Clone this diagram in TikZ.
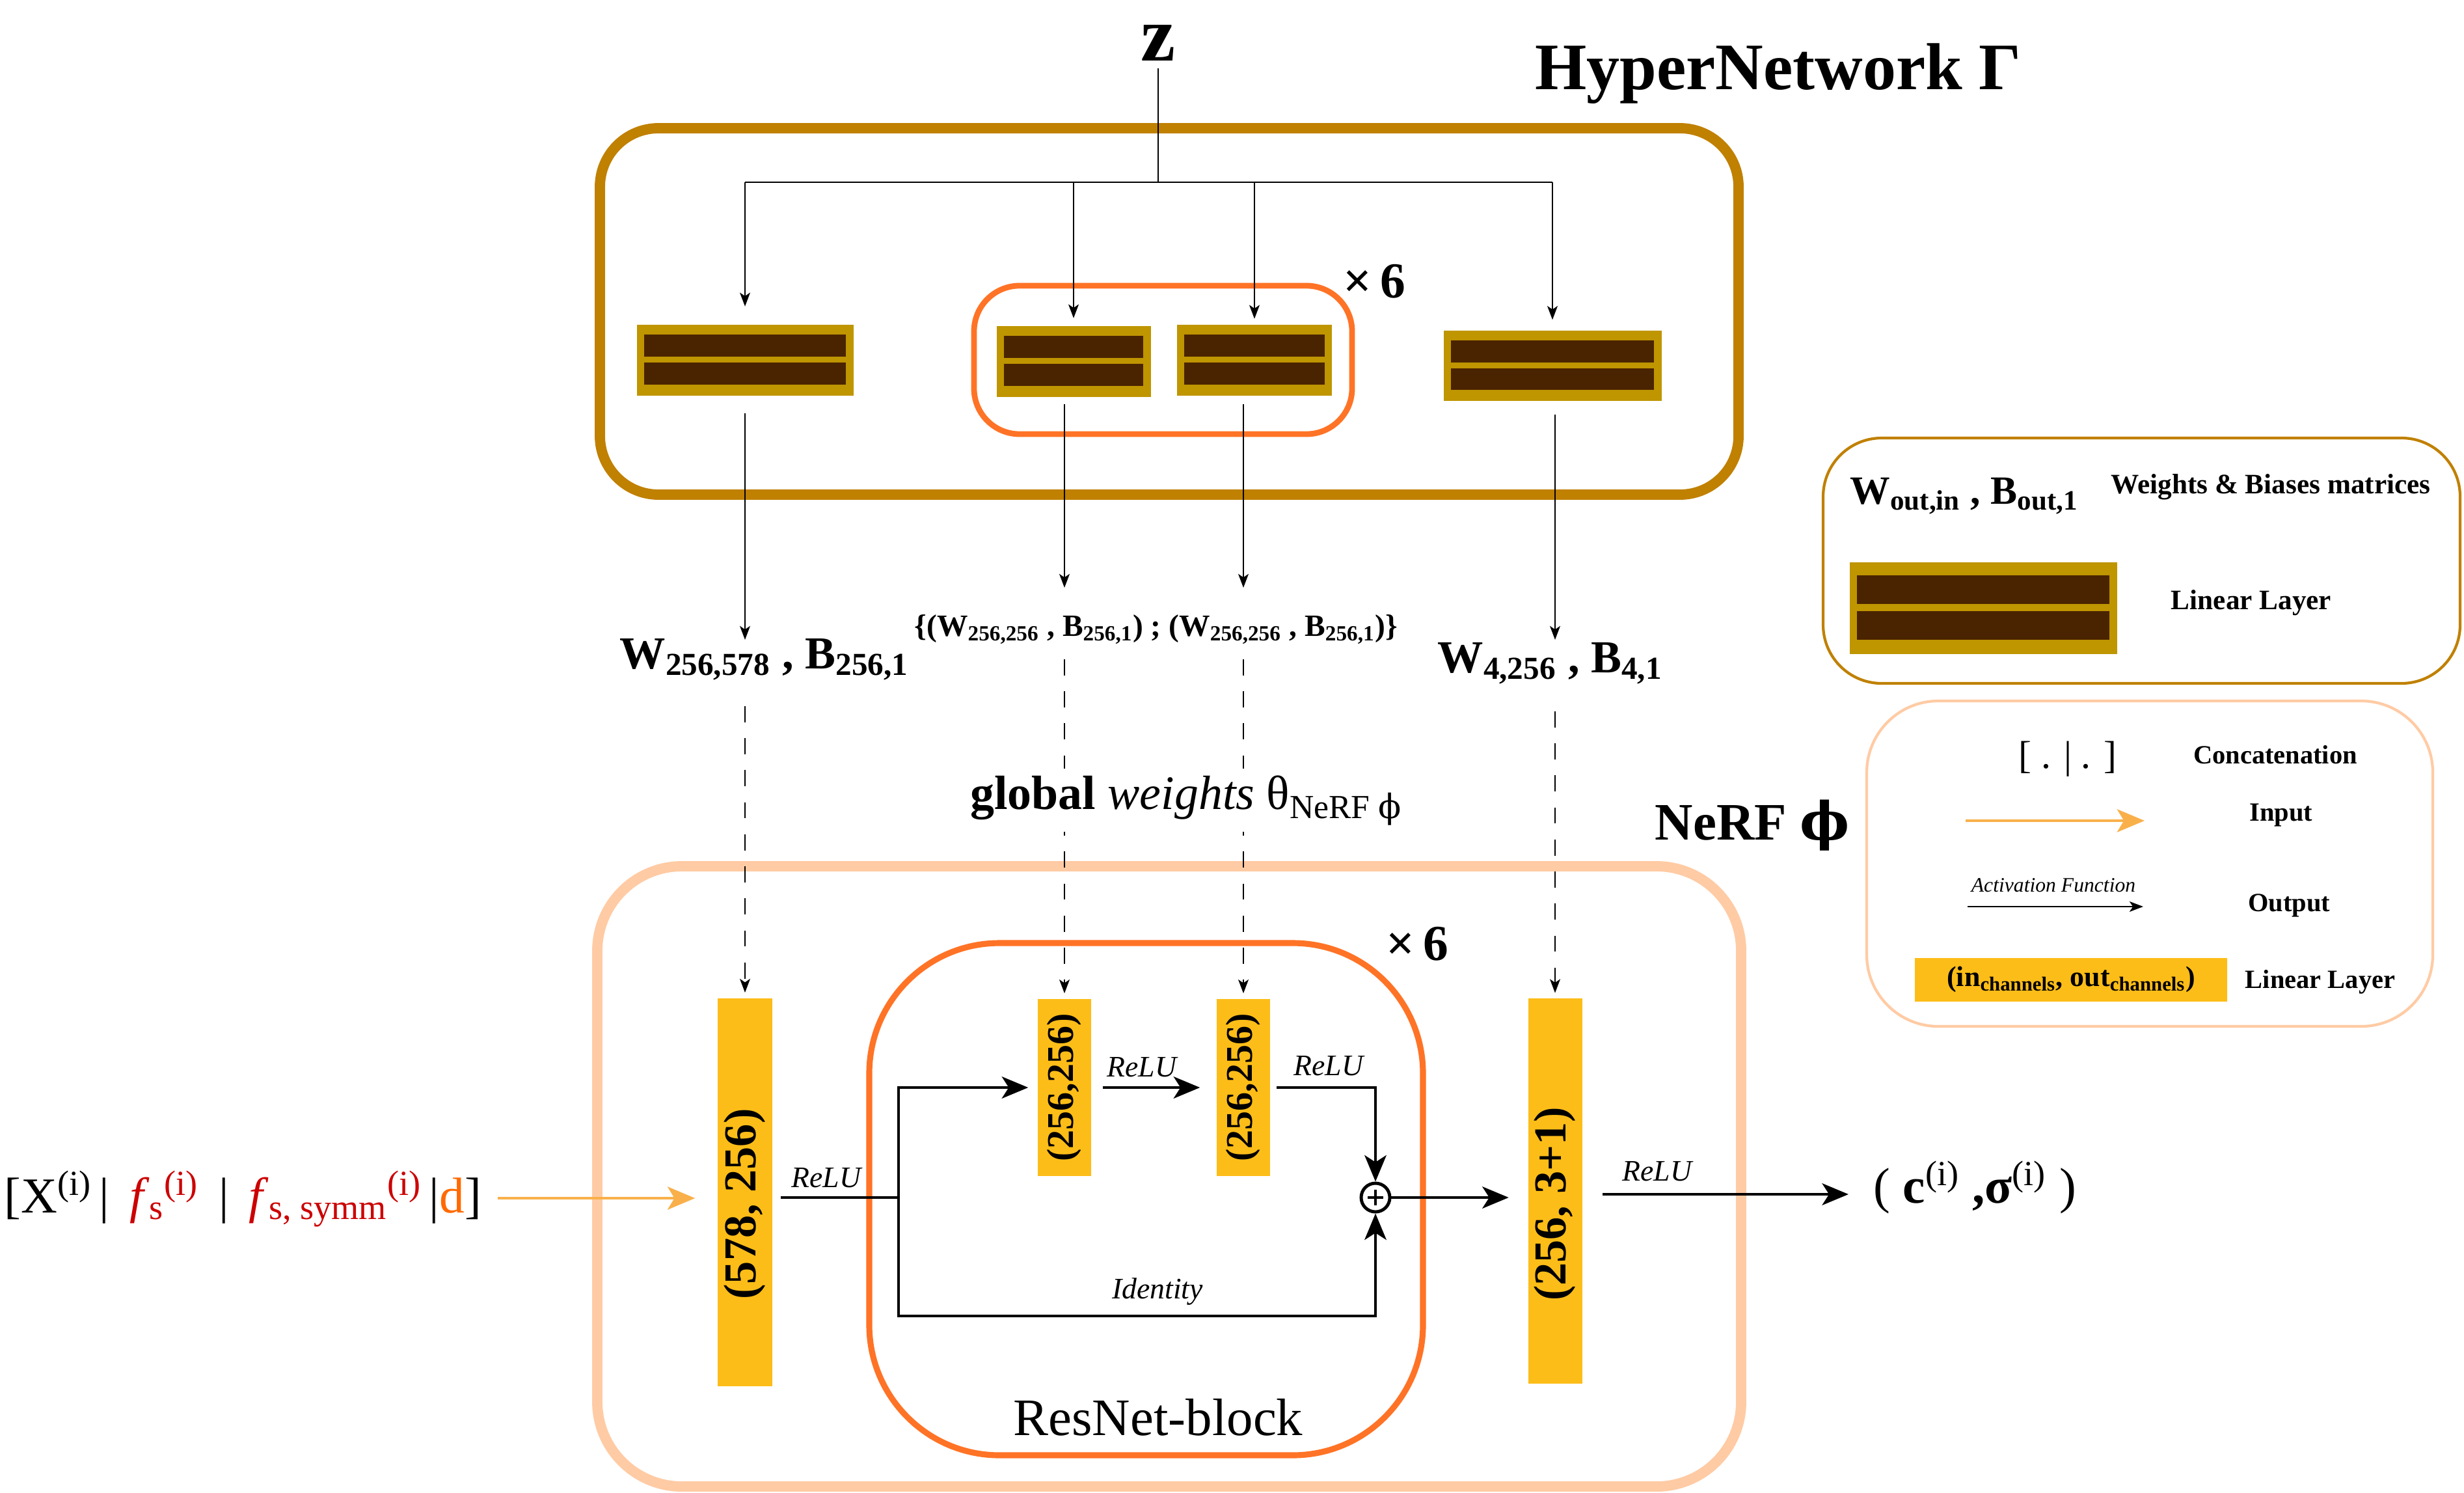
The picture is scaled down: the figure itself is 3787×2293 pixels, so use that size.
\documentclass[tikz,border=0pt]{standalone}
\usepackage{fontspec}
\setmainfont{Liberation Serif}
\newfontfamily\dvs{DejaVu Serif}
\usetikzlibrary{arrows.meta,calc}
\definecolor{hyperc}{HTML}{C08000}
\definecolor{goldc}{HTML}{BF9500}
\definecolor{barc}{HTML}{4A2400}
\definecolor{orc}{HTML}{FF7326}
\definecolor{peachc}{HTML}{FFCBA4}
\definecolor{yelc}{HTML}{FDBD18}
\definecolor{inc}{HTML}{F9B04A}
\definecolor{redc}{HTML}{CC0000}
\definecolor{dorc}{HTML}{FF6A00}
\newcommand\fsz[1]{\fontsize{#1}{#1}\selectfont}
\newcommand\phis{{\dvs ϕ}}
\newcommand\hlayer[5]{%
  \node[fill=goldc, minimum width=#4*0.01cm, minimum height=#5*0.01cm, inner sep=0pt] (#1) at (#2,#3) {};
  \fill[barc] ($(#1.north west)+(12,{0.147*#5})$) rectangle ($(#1.north east)+(-12,{0.459*#5})$);
  \fill[barc] ($(#1.north west)+(12,{0.541*#5})$) rectangle ($(#1.north east)+(-12,{0.853*#5})$);
}
\begin{document}
\begin{tikzpicture}[x=0.01cm,y=-0.01cm,
  thinln/.style={draw, line width=0.7pt},
  thinarr/.style={thinln, -{Stealth[length=6pt,width=4.5pt,inset=1.5pt]}},
  dasharr/.style={thinarr, dash pattern=on 7pt off 7pt},
  thickln/.style={draw, line width=1.4pt},
  thickarr/.style={thickln, -{Stealth[length=11.5pt,width=9.5pt,inset=3pt]}},
  inarr/.style={draw=inc, line width=1.4pt, -{Stealth[length=12pt,width=10pt,inset=3pt]}},
  ylayer/.style={fill=yelc, inner sep=0pt},
  lbl/.style={inner sep=0pt},
  relu/.style={font=\fsz{13}\itshape},
  legt/.style={font=\fsz{11.5}\bfseries},
]
\fill[white] (0,0) rectangle (3787,2293);
\useasboundingbox (0,0) rectangle (3787,2293);

% ---------- containers ----------
\draw[hyperc, line width=4.5pt, rounded corners=0.9cm] (922,197) rectangle (2672,760);
\draw[orc, line width=2.5pt, rounded corners=0.7cm] (1497,439) rectangle (2078,667);
\draw[peachc, line width=4.5pt, rounded corners=1.3cm] (918,1331) rectangle (2676,2284);
\draw[orc, line width=2.6pt, rounded corners=2cm] (1336,1449) rectangle (2187,2236);
\draw[hyperc, line width=1.2pt, rounded corners=0.9cm] (2802,673) rectangle (3781,1050);
\draw[peachc, line width=1.2pt, rounded corners=1.1cm] (2869,1077) rectangle (3739,1577);

% ---------- hypernetwork ----------
\node[lbl, font=\fsz{34}\bfseries] (z) at (1780,66) {z};
\node[font=\fsz{29}\bfseries] (hnt) at (2733,113) {HyperNetwork Γ};
\node[font=\fsz{22}\bfseries] (x6a) at (2112,432) {×\,6};

\hlayer{h1}{1145}{553}{333}{109}
\hlayer{h2}{1650}{555}{237}{109}
\hlayer{h3}{1928}{553}{238}{109}
\hlayer{h4}{2386}{562}{335}{108}

\coordinate (zt) at (1780,105);
\coordinate (zb) at (1780,280);
\draw[thinln] (zt) -- (zb);
\draw[thinln] (h1.north |- zb) -- (h4.north |- zb);
\draw[thinarr, shorten >=0.27cm] (h1.north |- zb) -- (h1.north);
\draw[thinarr, shorten >=0.11cm] (h2.north |- zb) -- (h2.north);
\draw[thinarr, shorten >=0.08cm] (h3.north |- zb) -- (h3.north);
\draw[thinarr, shorten >=0.16cm] (h4.north |- zb) -- (h4.north);

% weight labels
\node[lbl, anchor=base west, font=\fsz{20}\bfseries] (wb1) at (952,1027) {W\textsubscript{256,578} , B\textsubscript{256,1}};
\node[lbl, anchor=base west, font=\fsz{13.5}\bfseries] (wbm) at (1405,977) {\{(W\textsubscript{256,256} , B\textsubscript{256,1}) ; (W\textsubscript{256,256} , B\textsubscript{256,1})\}};
\node[lbl, anchor=base west, font=\fsz{20}\bfseries] (wb4) at (2209,1033) {W\textsubscript{4,256} , B\textsubscript{4,1}};

\coordinate (a1s) at (1145,635);  \coordinate (a1e) at (1145,983);
\coordinate (a2s) at (1636,621);  \coordinate (a2e) at (1636,903);
\coordinate (a3s) at (1911,621);  \coordinate (a3e) at (1911,903);
\coordinate (a4s) at (2390,637);  \coordinate (a4e) at (2390,983);
\draw[thinarr] (a1s) -- (a1e);
\draw[thinarr] (a2s) -- (a2e);
\draw[thinarr] (a3s) -- (a3e);
\draw[thinarr] (a4s) -- (a4e);

% ---------- NeRF ----------
\node[ylayer, minimum width=0.84cm, minimum height=5.96cm] (n1) at (1145,1832) {};
\node[ylayer, minimum width=0.82cm, minimum height=2.72cm] (n2) at (1636,1671) {};
\node[ylayer, minimum width=0.82cm, minimum height=2.72cm] (n3) at (1911,1671) {};
\node[ylayer, minimum width=0.83cm, minimum height=5.91cm] (n4) at (2390,1830) {};
\node[rotate=90, font=\fsz{20}\bfseries] (n1t) at (1145,1850) {(578, 256)};
\node[rotate=90, font=\fsz{16.5}\bfseries] (n2t) at (1636,1671) {(256,256)};
\node[rotate=90, font=\fsz{16.5}\bfseries] (n3t) at (1911,1671) {(256,256)};
\node[rotate=90, font=\fsz{20}\bfseries] (n4t) at (2390,1850) {(256, 3+1)};

\coordinate (d1) at (1145,1085);
\coordinate (d2) at (1636,1013);
\coordinate (d3) at (1911,1013);
\coordinate (d4) at (2390,1093);
\draw[dasharr, shorten >=0.08cm] (d1) -- (n1.north);
\draw[dasharr, shorten >=0.08cm] (d2) -- (n2.north);
\draw[dasharr, shorten >=0.08cm] (d3) -- (n3.north);
\draw[dasharr, shorten >=0.08cm] (d4) -- (n4.north);

\node[anchor=base west, font=\fsz{21}, fill=white, inner sep=3pt] (gw) at (1480,1243) {\textbf{global} \textit{weights} θ\textsubscript{NeRF \phis}};
\node[lbl, anchor=base west, font=\fsz{23}\bfseries] (nerft) at (2543,1290) {NeRF \phis};
\node[font=\fsz{22}\bfseries] (x6b) at (2178,1450) {×\,6};

% ResNet block wiring
\node[circle, draw, line width=1.4pt, minimum size=0.44cm, inner sep=0pt] (plus) at (2114,1840) {};
\draw[line width=1.4pt] ($(plus.center)+(-12,0)$) -- ($(plus.center)+(12,0)$);
\draw[line width=1.4pt] ($(plus.center)+(0,-12)$) -- ($(plus.center)+(0,12)$);

\coordinate (j) at (1381,1840);
\coordinate (jb) at (1381,2022);
\draw[thickln] ($(n1.east |- j)+(12,0)$) -- (j);
\draw[thickarr, shorten >=0.14cm] (j) |- (n2.west);
\draw[thickarr, shorten <=0.17cm, shorten >=0.25cm] (n2.east) -- (n3.west);
\draw[thickarr, shorten <=0.09cm] (n3.east) -| (plus.north);
\draw[thickarr] (j) -- (jb) -| (plus.south);
\draw[thickarr, shorten >=0.29cm] (plus.east) -- (plus.east -| n4.west);

\coordinate (o2) at (2841,1835);
\draw[thickarr, shorten <=0.31cm] (n4.east |- o2) -- (o2);

\node[relu] (r1) at (1270,1810) {ReLU};
\node[relu] (r2) at (1755,1640) {ReLU};
\node[relu] (r3) at (2042,1638) {ReLU};
\node[relu] (r4) at (2547,1800) {ReLU};
\node[relu] (idt) at (1779,1985) {Identity};
\node[font=\fsz{23}] (rnb) at (1780,2178) {ResNet-block};

% input / output
\node[lbl, anchor=base west, font=\fsz{22}] (inp) at (6,1863) {[X\textsuperscript{(i)}\hspace{0.15em}|\hspace{0.4em}\textcolor{redc}{\textit{f}\textsubscript{s}\textsuperscript{(i)}}\hspace{0.4em}|\hspace{0.4em}\textcolor{redc}{\textit{f}\textsubscript{s, symm}\textsuperscript{(i)}}\hspace{0.15em}|\textcolor{dorc}{d}]};
\coordinate (i1) at (765,1841);
\draw[inarr, shorten >=0.34cm] (i1) -- (i1 -| n1.west);
\node[lbl, anchor=base west, font=\fsz{22}] (outt) at (2879,1848) {( \textbf{c}\textsuperscript{(i)} \textbf{,σ}\textsuperscript{(i)} )};

% ---------- legend ----------
\node[lbl, anchor=base west, font=\fsz{17.5}\bfseries] (lw) at (2843,774) {W\textsubscript{out,in} , B\textsubscript{out,1}};
\node[font=\fsz{12.3}\bfseries] (lwt) at (3490,748) {Weights \& Biases matrices};
\hlayer{hl}{3048}{934}{411}{141}
\node[font=\fsz{12.3}\bfseries] (hlt) at (3460,926) {Linear Layer};

\node[font=\fsz{17}] (cc) at (3178,1166) {[ . | . ]};
\node[legt] (cct) at (3497,1160) {Concatenation};
\coordinate (la1) at (3021,1261);
\coordinate (la2) at (3296,1261);
\draw[inarr] (la1) -- (la2);
\node[legt] (lat) at (3506,1253) {Input};
\node[font=\fsz{9}\itshape] (act) at (3156,1360) {Activation Function};
\coordinate (lb1) at (3024,1393);
\coordinate (lb2) at (3294,1393);
\draw[thinarr] (lb1) -- (lb2);
\node[legt] (lbt) at (3518,1391) {Output};
\node[ylayer, minimum width=4.8cm, minimum height=0.67cm, font=\fsz{12.5}\bfseries] (ly) at (3183,1505) {(in\textsubscript{channels}, out\textsubscript{channels})};
\node[legt] (lyt) at (3566,1509) {Linear Layer};
\end{tikzpicture}
\end{document}
